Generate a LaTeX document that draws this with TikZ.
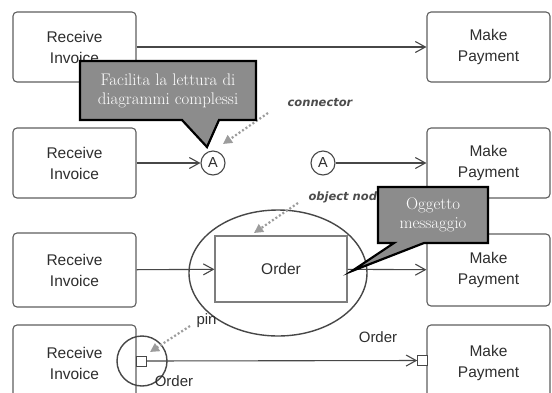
\documentclass[tikz,border=0pt]{standalone}
\usepackage{fontspec}
\newfontfamily\diagfont{Liberation Sans}
\newfontfamily\notefont{DejaVu Sans}
\usetikzlibrary{arrows.meta,shapes.geometric}
\definecolor{linegray}{HTML}{474747}
\definecolor{boxgray}{HTML}{5E5E5E}
\definecolor{textgray}{HTML}{2E2E2E}
\definecolor{dotgray}{HTML}{9C9C9C}
\definecolor{callfill}{HTML}{8C8C8C}
\tikzset{
  actbox/.style={draw=boxgray, rounded corners=4pt, line width=1.1pt,
    minimum width=123pt, minimum height=70pt, align=center,
    font=\diagfont\fontsize{15.5}{21}\selectfont, text=textgray},
  objbox/.style={draw=boxgray!80, line width=1.1pt, minimum width=132pt,
    minimum height=66pt, font=\diagfont\fontsize{15.5}{21}\selectfont, text=textgray},
  joint/.style={circle, draw=linegray, line width=1.1pt, minimum size=24pt,
    inner sep=0pt, font=\diagfont\fontsize{14.5}{16}\selectfont, text=textgray},
  pinbox/.style={draw=linegray, line width=1pt, fill=white, minimum size=10pt, inner sep=0pt},
  ring/.style={draw=linegray, line width=1.4pt},
  flow/.style={draw=linegray, line width=1.1pt,
    -{Straight Barb[length=10pt,width=11pt,line width=1.1pt]}},
  hint/.style={draw=dotgray, line width=2.2pt, dash pattern=on 2pt off 2.2pt,
    -{Triangle[length=9pt,width=9pt,fill=dotgray]}},
  hintlabel/.style={font=\notefont\bfseries\itshape\fontsize{11.5}{13}\selectfont, text=textgray!85},
  plainlabel/.style={font=\diagfont\fontsize{15}{18}\selectfont, text=textgray},
  callout/.style={draw=black, fill=callfill, line width=2.2pt, line join=miter},
  callouttext/.style={text=white, align=center, font=\fontsize{16.8}{19.5}\selectfont},
}
\begin{document}
\begin{tikzpicture}[x=1pt, y=-1pt]
  \useasboundingbox (0,0) rectangle (552,392);
  \clip (0,0) rectangle (552,392);
  \fill[white] (0,0) rectangle (552,392);

  % activity boxes, left and right columns
  \node[actbox] (R1) at (74.5,47)  {Receive\\Invoice};
  \node[actbox] (M1) at (488.5,47) {Make\\Payment};
  \node[actbox] (R2) at (74.5,163) {Receive\\Invoice};
  \node[actbox] (M2) at (488.5,163) {Make\\Payment};
  \node[actbox, minimum height=74pt] (R3) at (74.5,270) {Receive\\Invoice};
  \node[actbox, minimum height=72pt] (M3) at (488.5,270) {Make\\Payment};
  \node[actbox, minimum height=76pt] (R4) at (74.5,363) {Receive\\Invoice};
  \node[actbox, minimum height=76pt] (M4) at (488.5,363) {Make\\Payment};

  % row 1: direct flow
  \draw[flow] (R1) -- (M1);

  % row 2: connectors
  \node[joint] (A1) at (213,163) {A};
  \node[joint] (A2) at (323,163) {A};
  \draw[flow] (R2) -- (A1);
  \draw[flow] (A2) -- (M2);

  % row 3: object node
  \node[ring, ellipse, minimum width=178pt, minimum height=126pt] (objring) at (278,273) {};
  \node[objbox] (order) at (281,269) {Order};
  \draw[flow] (R3) -- (order);
  \draw[flow] (order) -- (M3);

  % row 4: pins
  \node[pinbox] (pinL) at (141,361) {};
  \node[pinbox, minimum size=9.5pt] (pinR) at (422.5,360.5) {};
  \node[ring, circle, minimum size=50pt, inner sep=0pt] (pinring) at (142,361) {};
  \draw[flow] (pinL) -- (pinR);
  \node[plainlabel] (ordR) at (378,337) {Order};
  \node[plainlabel] (ordL) at (174,381) {Order};

  % annotation pointers
  \node[hintlabel] (lconn) at (320,103) {connector};
  \coordinate (cs) at (268,113);
  \coordinate (ct) at (223,144);
  \draw[hint] (cs) -- (ct);

  \node[hintlabel, anchor=west] (lobj) at (305,197) {object node};
  \coordinate (os) at (298,203);
  \coordinate (ot) at (254,233);
  \draw[hint] (os) -- (ot);

  \node[plainlabel, anchor=west] (lpin) at (193,321) {pin};
  \coordinate (ps) at (190,326);
  \coordinate (pt) at (150,352);
  \draw[hint] (ps) -- (pt);

  % callouts
  \draw[callout] (80,61) -- (256,61) -- (256,120) -- (219,120) -- (207,147)
    -- (182,120) -- (80,120) -- cycle;
  \node[callouttext] (noteA) at (168,91) {Facilita la lettura di\\diagrammi complessi};

  \draw[callout] (378,187) -- (488,187) -- (488,243) -- (424,243) -- (352,271)
    -- (394,243) -- (378,243) -- cycle;
  \node[callouttext] (noteB) at (433,215) {Oggetto\\messaggio};
\end{tikzpicture}
\end{document}
